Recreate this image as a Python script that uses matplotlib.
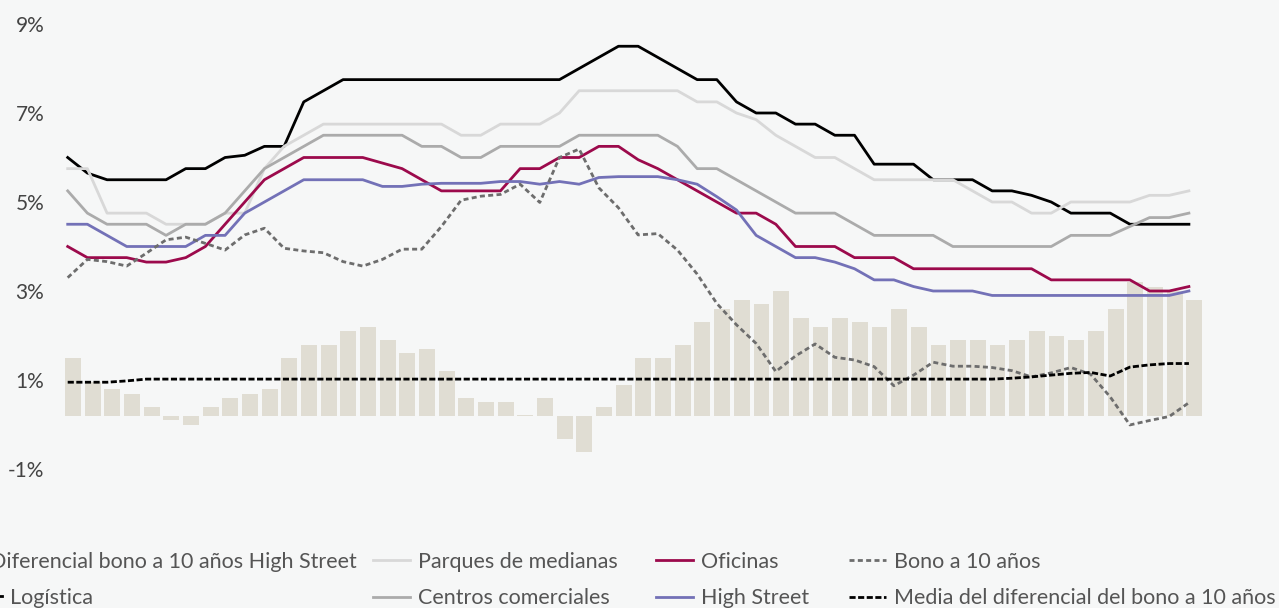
import numpy as np
import matplotlib
matplotlib.use("Agg")
import matplotlib.pyplot as plt
from matplotlib.ticker import FixedLocator, FuncFormatter

plt.rcParams['font.family'] = ['Lato', 'DejaVu Sans']

# quarterly series, values in %
logistica = [6.0, 5.65, 5.5, 5.5, 5.5, 5.5, 5.75, 5.75, 6.0, 6.05, 6.25, 6.25, 7.25, 7.5,
             7.75, 7.75, 7.75, 7.75, 7.75, 7.75, 7.75, 7.75, 7.75, 7.75, 7.75, 7.75,
             8.0, 8.25, 8.5, 8.5, 8.25, 8.0, 7.75, 7.75, 7.25, 7.0, 7.0, 6.75, 6.75, 6.5, 6.5,
             5.85, 5.85, 5.85, 5.5, 5.5, 5.5, 5.25, 5.25, 5.15, 5.0, 4.75, 4.75, 4.75,
             4.5, 4.5, 4.5, 4.5]
parques = [5.75, 5.75, 4.75, 4.75, 4.75, 4.5, 4.5, 4.5, 4.75, 4.75, 5.75, 6.25, 6.5, 6.75,
           6.75, 6.75, 6.75, 6.75, 6.75, 6.75, 6.5, 6.5, 6.75, 6.75, 6.75, 7.0,
           7.5, 7.5, 7.5, 7.5, 7.5, 7.5, 7.25, 7.25, 7.0, 6.85, 6.5, 6.25, 6.0, 6.0, 5.75,
           5.5, 5.5, 5.5, 5.5, 5.5, 5.25, 5.0, 5.0, 4.75, 4.75, 5.0, 5.0, 5.0, 5.0,
           5.15, 5.15, 5.25]
centros = [5.25, 4.75, 4.5, 4.5, 4.5, 4.25, 4.5, 4.5, 4.75, 5.25, 5.75, 6.0, 6.25,
           6.5, 6.5, 6.5, 6.5, 6.5, 6.25, 6.25, 6.0, 6.0, 6.25, 6.25, 6.25, 6.25,
           6.5, 6.5, 6.5, 6.5, 6.5, 6.25, 5.75, 5.75, 5.5, 5.25, 5.0, 4.75, 4.75, 4.75, 4.5,
           4.25, 4.25, 4.25, 4.25, 4.0, 4.0, 4.0, 4.0, 4.0, 4.0, 4.25, 4.25, 4.25,
           4.45, 4.65, 4.65, 4.75]
oficinas = [4.0, 3.75, 3.75, 3.75, 3.65, 3.65, 3.75, 4.0, 4.5, 5.0, 5.5, 5.75, 6.0, 6.0,
            6.0, 6.0, 5.875, 5.75, 5.5, 5.25, 5.25, 5.25, 5.25, 5.75, 5.75, 6.0,
            6.0, 6.25, 6.25, 5.95, 5.75, 5.5, 5.25, 5.0, 4.75, 4.75, 4.5, 4.0, 4.0, 4.0,
            3.75, 3.75, 3.75, 3.5, 3.5, 3.5, 3.5, 3.5, 3.5, 3.5, 3.25, 3.25, 3.25, 3.25, 3.25,
            3.0, 3.0, 3.1]
high_street = [4.5, 4.5, 4.25, 4.0, 4.0, 4.0, 4.0, 4.25, 4.25, 4.75, 5.0, 5.25, 5.5, 5.5,
               5.5, 5.5, 5.35, 5.35, 5.4, 5.42, 5.42, 5.42, 5.46, 5.46, 5.4, 5.46,
               5.4, 5.55, 5.57, 5.57, 5.57, 5.5, 5.4, 5.12, 4.82, 4.25, 4.0, 3.75, 3.75, 3.65,
               3.5, 3.25, 3.25, 3.1, 3.0, 3.0, 3.0, 2.9, 2.9, 2.9, 2.9, 2.9, 2.9, 2.9, 2.9,
               2.9, 2.9, 3.0]
bono = [3.3, 3.71, 3.66, 3.56, 3.85, 4.15, 4.21, 4.07, 3.92, 4.26,
        4.41, 3.96, 3.9, 3.86, 3.66, 3.56, 3.71, 3.94, 3.94, 4.45,
        5.04, 5.13, 5.17, 5.4, 4.99, 6.0, 6.19, 5.32, 4.87, 4.26,
        4.29, 3.92, 3.38, 2.72, 2.24, 1.82, 1.19, 1.54, 1.81, 1.51,
        1.45, 1.3, 0.87, 1.11, 1.4, 1.31, 1.31, 1.28, 1.21, 1.07,
        1.16, 1.28, 1.13, 0.62, -0.01, 0.09, 0.18, 0.49]
media_diferencial = [0.95, 0.95, 0.95, 0.98] + [1.02] * 44 + \
                    [1.04, 1.07, 1.11, 1.15, 1.17, 1.09, 1.29, 1.34, 1.37, 1.37]
diferencial_hs = [1.31, 0.76, 0.61, 0.49, 0.2, -0.1, -0.2, 0.2, 0.4, 0.49, 0.61,
                  1.31, 1.6, 1.6, 1.91, 2.0, 1.71, 1.42, 1.51, 1.01,
                  0.4, 0.31, 0.31, 0.02, 0.4, -0.51, -0.8, 0.2, 0.7,
                  1.3, 1.3, 1.6, 2.11, 2.4, 2.61, 2.52, 2.81, 2.2, 2.0, 2.2, 2.11,
                  2.0, 2.4, 2.0, 1.6, 1.71, 1.71, 1.6, 1.71, 1.91, 1.8, 1.71, 1.91,
                  2.4, 3.0, 2.89, 2.8, 2.61]
y_ticks = [-1, 1, 3, 5, 7, 9]

x = np.arange(len(logistica))
x_line = x - 0.27

fig = plt.figure(figsize=(12.79, 6.08), dpi=100, facecolor='#f6f7f7')
ax = fig.add_axes([0.0494, 0.15543, 0.892, 0.84169])
axb = ax.twinx()
ax.set_zorder(axb.get_zorder() + 1)
ax.patch.set_visible(False)

# bars on their own scale (same units, baseline a bit higher)
bars = axb.bar(x, diferencial_hs, width=0.81, color='#e0ddd3', linewidth=0,
               label='Diferencial bono a 10 años High Street')
axb.set_ylim(-2 - 8.5 / 44.5, 9.5 - 8.5 / 44.5)
axb.set_yticks([])

l_log, = ax.plot(x_line, logistica, color='#000000', lw=2.0, label='Logística')
l_par, = ax.plot(x_line, parques, color='#d8d8d8', lw=2.0, label='Parques de medianas')
l_cen, = ax.plot(x_line, centros, color='#ababab', lw=2.0, label='Centros comerciales')
l_ofi, = ax.plot(x_line, oficinas, color='#9c0a4c', lw=2.0, label='Oficinas')
l_hs, = ax.plot(x_line, high_street, color='#7371b7', lw=2.0, label='High Street')
l_bono, = ax.plot(x_line, bono, color='#6d6d6d', lw=2.0, ls=(0, (1.8, 1.2)),
                  label='Bono a 10 años')
l_media, = ax.plot(x_line, media_diferencial, color='#000000', lw=2.0, ls=(0, (2.2, 0.9)),
                   label='Media del diferencial del bono a 10 años')

ax.set_xlim(-0.5, len(x) - 0.5)
axb.set_xlim(-0.5, len(x) - 0.5)
ax.set_ylim(-2, 9.5)
ax.yaxis.set_major_locator(FixedLocator(y_ticks))
ax.yaxis.set_major_formatter(FuncFormatter(lambda v, p: '{:d}%'.format(int(v))))
ax.tick_params(axis='y', length=0, pad=13.7, labelsize=15, labelcolor='#444444')
ax.set_xticks([])
for a in (ax, axb):
    for s in a.spines.values():
        s.set_visible(False)

# legend laid out by hand, one block per column (it runs past both figure edges)
leg_kw = dict(loc='upper left', frameon=False, borderpad=0, borderaxespad=0,
              handlelength=1.72, handletextpad=0.37, labelspacing=0.75,
              prop={'size': 15.5}, labelcolor='#555555')
row1, row2 = 552, 588
blocks = [([bars], -55, row1), ([l_log], -35, row2),
          ([l_par, l_cen], 373, row1), ([l_ofi, l_hs], 656, row1),
          ([l_bono, l_media], 849, row1)]
for handles, px, py in blocks:
    fig.legend(handles=handles, bbox_to_anchor=(px / 1279, 1 - py / 608), **leg_kw)

fig.savefig('out.png', dpi=100, facecolor=fig.get_facecolor())
